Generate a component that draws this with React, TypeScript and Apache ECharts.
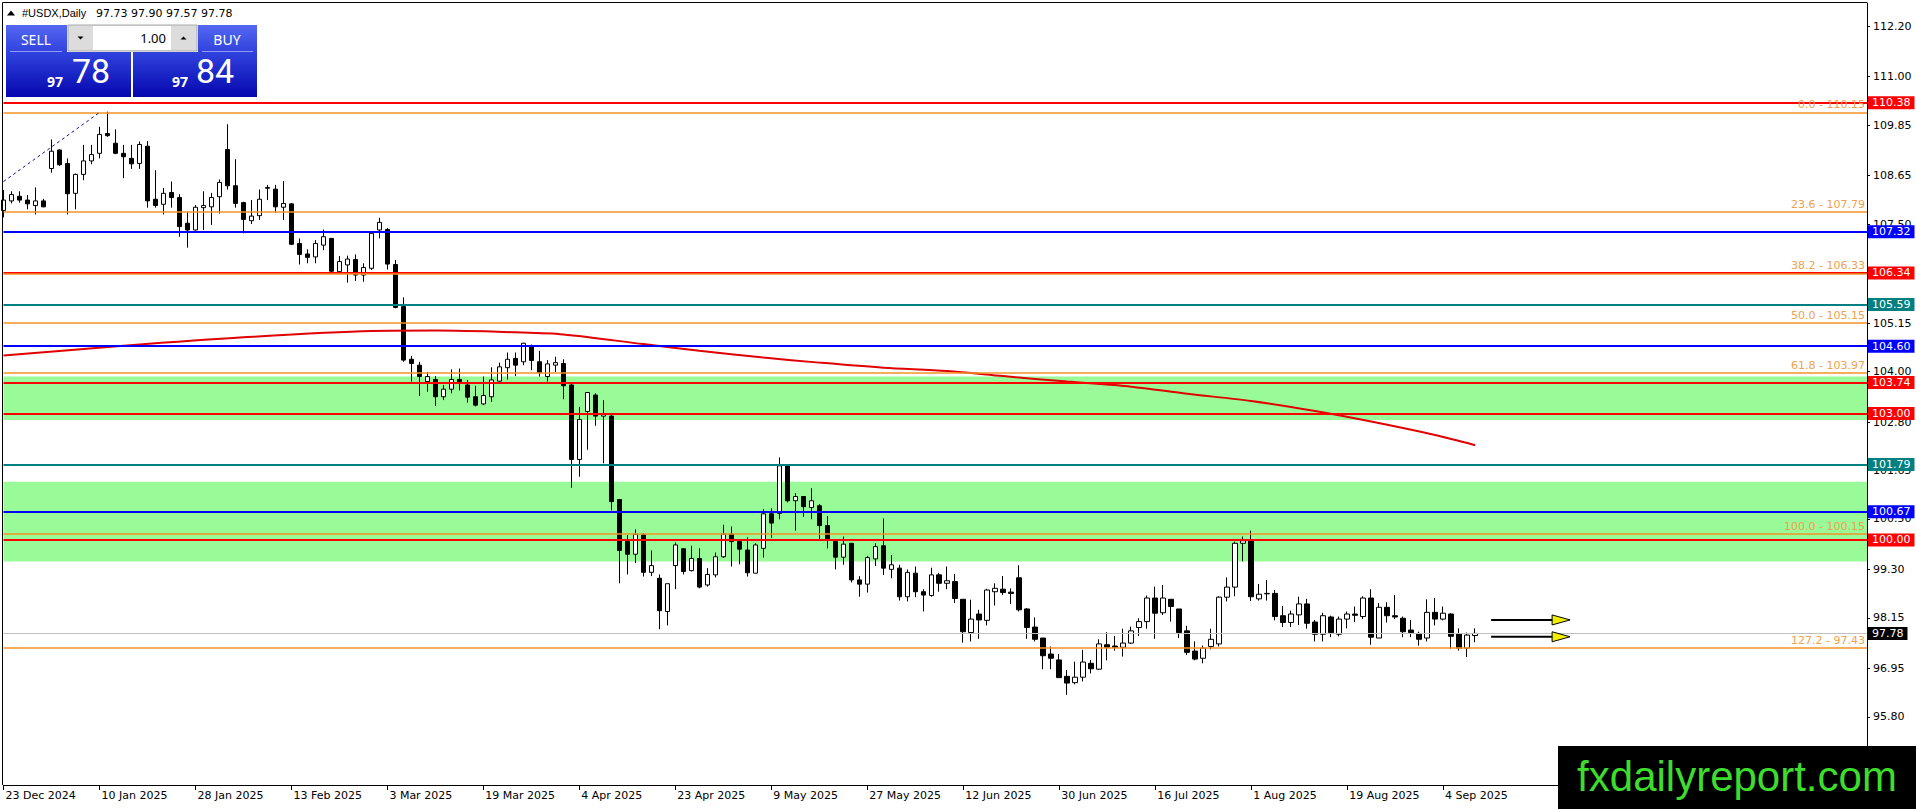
import React, { useEffect, useRef } from 'react';
import * as echarts from 'echarts';

// ---------- DATA ----------
// Daily candles, one row per trading day from 23 Dec 2024: [open, high, low, close]
const CANDLES: number[][] = [
  [107.82, 108.31, 107.66, 108.07], [108.05, 108.28, 107.99, 108.20], [108.16, 108.28, 108.01, 108.07],
  [108.07, 108.19, 107.85, 107.98], [107.94, 108.37, 107.73, 108.05], [108.05, 108.10, 107.90, 107.91],
  [108.82, 109.51, 108.72, 109.23], [109.26, 109.27, 108.88, 108.91], [108.94, 109.06, 107.73, 108.22],
  [108.23, 108.70, 107.85, 108.68], [108.68, 109.38, 108.54, 109.00], [109.00, 109.38, 108.92, 109.15],
  [109.18, 109.81, 109.06, 109.63], [109.65, 110.17, 109.57, 109.60], [109.42, 109.75, 109.16, 109.18],
  [109.18, 109.38, 108.59, 109.10], [109.06, 109.38, 108.81, 108.93], [108.94, 109.46, 108.81, 109.39],
  [109.35, 109.47, 107.89, 108.05], [108.09, 108.78, 107.89, 107.94], [107.97, 108.36, 107.73, 108.23],
  [108.25, 108.51, 107.89, 108.13], [108.13, 108.21, 107.20, 107.44], [107.52, 107.79, 106.94, 107.36],
  [107.36, 107.95, 107.35, 107.90], [107.89, 108.28, 107.36, 107.94], [107.91, 108.24, 107.48, 108.13],
  [108.15, 108.56, 107.75, 108.49], [109.27, 109.87, 108.32, 108.41], [108.41, 109.04, 107.89, 107.99],
  [108.01, 108.03, 107.28, 107.61], [107.58, 108.07, 107.50, 107.69], [107.70, 108.32, 107.60, 108.09],
  [108.35, 108.43, 108.07, 108.37], [108.33, 108.43, 107.77, 107.91], [107.90, 108.52, 107.60, 107.99],
  [107.98, 108.00, 107.00, 107.02], [107.04, 107.16, 106.54, 106.78], [106.79, 106.90, 106.57, 106.71],
  [106.72, 107.12, 106.57, 107.04], [107.00, 107.37, 106.88, 107.20], [107.16, 107.17, 106.34, 106.38],
  [106.37, 106.74, 106.31, 106.61], [106.53, 106.75, 106.11, 106.67], [106.66, 106.78, 106.15, 106.29],
  [106.29, 106.57, 106.13, 106.47], [106.45, 107.30, 106.41, 107.28], [107.36, 107.65, 107.16, 107.54],
  [107.37, 107.41, 106.42, 106.55], [106.54, 106.65, 105.50, 105.52], [105.54, 105.76, 104.23, 104.27],
  [104.29, 104.37, 103.76, 104.19], [104.15, 104.23, 103.42, 103.88], [103.76, 103.99, 103.52, 103.88],
  [103.81, 103.89, 103.18, 103.40], [103.40, 103.68, 103.32, 103.58], [103.58, 104.05, 103.48, 103.81],
  [103.81, 104.07, 103.55, 103.76], [103.68, 103.80, 103.26, 103.39], [103.40, 103.66, 103.17, 103.20],
  [103.23, 103.88, 103.20, 103.43], [103.40, 104.10, 103.28, 103.80], [103.77, 104.21, 103.76, 104.11],
  [104.09, 104.45, 103.81, 104.29], [104.31, 104.45, 103.89, 104.15], [104.23, 104.68, 104.15, 104.67],
  [104.60, 104.64, 104.03, 104.26], [104.23, 104.49, 103.88, 103.97], [103.88, 104.27, 103.76, 104.18],
  [104.15, 104.35, 103.99, 104.21], [104.19, 104.29, 103.34, 103.66], [103.68, 103.72, 101.24, 101.91],
  [101.91, 103.16, 101.50, 102.86], [103.05, 103.50, 102.14, 103.50], [103.44, 103.48, 102.71, 102.94],
  [102.94, 103.32, 101.82, 102.98], [102.94, 102.97, 100.70, 100.91], [100.96, 100.96, 98.97, 99.75],
  [99.96, 100.12, 99.18, 99.66], [99.66, 100.25, 99.45, 100.13], [100.12, 100.16, 99.13, 99.23],
  [99.23, 99.75, 99.14, 99.39], [99.09, 99.18, 97.88, 98.32], [98.30, 98.96, 97.97, 98.96],
  [99.39, 99.94, 98.83, 99.88], [99.79, 99.80, 99.18, 99.25], [99.27, 99.86, 99.25, 99.56],
  [99.56, 99.80, 98.85, 98.88], [98.93, 99.33, 98.89, 99.18], [99.17, 99.70, 99.11, 99.60],
  [99.60, 100.36, 99.57, 100.14], [100.14, 100.32, 99.37, 99.96], [99.96, 100.00, 99.42, 99.78],
  [99.76, 100.06, 99.13, 99.22], [99.21, 99.92, 99.21, 99.88], [99.80, 100.73, 99.58, 100.62],
  [100.62, 100.75, 100.05, 100.40], [100.63, 101.96, 100.49, 101.76], [101.76, 101.76, 100.89, 100.93],
  [100.93, 101.11, 100.22, 101.03], [101.03, 101.03, 100.55, 100.79], [100.77, 101.23, 100.49, 100.93],
  [100.81, 100.85, 100.02, 100.34], [100.34, 100.57, 99.80, 100.00], [99.96, 100.00, 99.30, 99.59],
  [99.59, 100.08, 99.41, 99.90], [99.92, 99.92, 98.99, 99.05], [99.05, 99.14, 98.65, 98.95],
  [98.95, 99.62, 98.75, 99.58], [99.55, 99.92, 99.38, 99.84], [99.86, 100.51, 99.17, 99.33],
  [99.30, 99.64, 99.09, 99.41], [99.33, 99.41, 98.56, 98.65], [98.65, 99.30, 98.54, 99.23],
  [99.21, 99.37, 98.64, 98.77], [98.77, 98.83, 98.30, 98.69], [98.68, 99.34, 98.65, 99.17],
  [99.17, 99.22, 98.77, 98.97], [98.97, 99.37, 98.83, 99.03], [99.01, 99.19, 98.50, 98.61],
  [98.59, 98.59, 97.56, 97.82], [97.80, 98.58, 97.59, 98.12], [98.24, 98.34, 97.65, 98.10],
  [98.09, 98.84, 97.97, 98.81], [98.77, 98.97, 98.44, 98.85], [98.83, 99.14, 98.69, 98.75],
  [98.76, 98.85, 98.48, 98.73], [99.10, 99.40, 98.30, 98.34], [98.36, 98.38, 97.65, 97.92],
  [97.93, 98.16, 97.59, 97.64], [97.67, 97.67, 96.93, 97.25], [97.29, 97.47, 96.93, 97.19],
  [97.15, 97.29, 96.73, 96.73], [96.76, 96.91, 96.32, 96.60], [96.61, 97.11, 96.57, 96.74],
  [96.74, 97.39, 96.64, 97.10], [97.07, 97.15, 96.83, 96.94], [96.93, 97.64, 96.91, 97.53],
  [97.51, 97.81, 97.14, 97.45], [97.48, 97.72, 97.37, 97.45], [97.45, 97.89, 97.23, 97.55],
  [97.55, 97.94, 97.53, 97.84], [97.92, 98.14, 97.72, 98.06], [98.06, 98.68, 97.89, 98.62],
  [98.62, 98.89, 97.65, 98.26], [98.27, 98.93, 98.22, 98.62], [98.59, 98.59, 98.06, 98.42],
  [98.36, 98.36, 97.67, 97.80], [97.84, 97.96, 97.27, 97.33], [97.36, 97.59, 97.14, 97.17],
  [97.19, 97.49, 97.07, 97.43], [97.47, 97.89, 97.40, 97.64], [97.53, 98.66, 97.47, 98.64],
  [98.64, 99.11, 98.54, 98.88], [98.88, 99.96, 98.66, 99.92], [99.92, 100.08, 99.49, 99.98],
  [100.00, 100.22, 98.55, 98.65], [98.60, 98.95, 98.56, 98.71], [98.73, 99.05, 98.56, 98.72],
  [98.73, 98.81, 98.09, 98.18], [98.20, 98.43, 97.93, 98.04], [98.04, 98.32, 97.93, 98.24],
  [98.22, 98.65, 97.98, 98.48], [98.48, 98.60, 97.89, 98.02], [98.05, 98.10, 97.59, 97.76],
  [97.76, 98.27, 97.59, 98.20], [98.17, 98.20, 97.69, 97.80], [97.76, 98.18, 97.71, 98.12],
  [98.12, 98.30, 97.90, 98.24], [98.24, 98.42, 98.05, 98.21], [98.18, 98.66, 98.12, 98.62],
  [98.62, 98.83, 97.51, 97.69], [97.67, 98.50, 97.67, 98.40], [98.40, 98.52, 98.04, 98.20],
  [98.20, 98.69, 98.12, 98.17], [98.14, 98.18, 97.69, 97.82], [97.86, 98.10, 97.69, 97.80],
  [97.78, 97.82, 97.49, 97.64], [97.67, 98.59, 97.59, 98.28], [98.28, 98.62, 97.97, 98.12],
  [98.12, 98.42, 98.09, 98.26], [98.24, 98.26, 97.41, 97.71], [97.77, 97.90, 97.37, 97.43],
  [97.43, 97.80, 97.22, 97.74], [97.73, 97.90, 97.57, 97.78],
];

// Date labels, one every 12 bars (bar 0, 12, 24, ...)
const DATE_LABELS = [
  '23 Dec 2024', '10 Jan 2025', '28 Jan 2025', '13 Feb 2025', '3 Mar 2025', '19 Mar 2025',
  '4 Apr 2025', '23 Apr 2025', '9 May 2025', '27 May 2025', '12 Jun 2025', '30 Jun 2025',
  '16 Jul 2025', '1 Aug 2025', '19 Aug 2025', '4 Sep 2025',
];
const LABEL_STEP = 12;
const SLOT_COUNT = 234; // bars + empty space on the right

// Price scale tick labels
const Y_TICKS = [95.80, 96.95, 98.15, 99.30, 100.50, 101.65, 102.80, 104.00, 105.15, 106.30, 107.50, 108.65, 109.85, 111.00, 112.20];
const Y_MIN = 94.18;
const Y_MAX = 112.75;

// Moving average (sampled along the curve): bar index and value
const MA_INDEX = [0, 15, 30, 46, 54, 64, 70, 80, 87, 95, 102, 110, 118, 125, 133, 141, 148, 156, 164, 171, 179, 184];
const MA_VALUE = [104.38, 104.61, 104.81, 104.96, 104.97, 104.93, 104.88, 104.65, 104.49, 104.33, 104.21, 104.09, 104.01, 103.89, 103.76, 103.64, 103.47, 103.30, 103.06, 102.81, 102.49, 102.25];

// Horizontal support / resistance levels
const LEVEL_VALUES = [110.38, 107.32, 106.34, 105.59, 104.60, 103.74, 103.00, 101.79, 100.67, 100.00];
const LEVEL_KIND = ['red', 'blue', 'red', 'teal', 'blue', 'red', 'red', 'teal', 'blue', 'red'];

// Fibonacci retracement levels
const FIB_RATIOS = ['0.0', '23.6', '38.2', '50.0', '61.8', '100.0', '127.2'];
const FIB_VALUES = [110.15, 107.79, 106.33, 105.15, 103.97, 100.15, 97.43];
const FIB_TREND = [[0, 108.51], [12, 110.15]];

// Shaded zones [top, bottom]
const ZONES = [[103.88, 102.85], [101.38, 99.49]];

// Header quote
const SYMBOL = '#USDX,Daily';
const BID = '97.78';
const ASK = '97.84';
const LOT = '1.00';

// Arrow annotations: start bar index and price
const ARROWS = [[186, 98.10], [186, 97.70]];

// ---------- STYLE ----------
const FONT = '"DejaVu Sans", sans-serif';
const KIND_COLOR: Record<string, string> = { red: '#FF0000', blue: '#0000FF', teal: '#008080' };
const FIB_LINE = '#F39326';
const FIB_TEXT = '#F0A14E';

function buildOption() {
  const cats = Array.from({ length: SLOT_COUNT }, (_, i) => String(i));
  const candleData = CANDLES.map(([o, h, l, c]) => [o, c, l, h]);
  const lastClose = CANDLES[CANDLES.length - 1][3];
  const showLabel = (i: number) => i % LABEL_STEP === 0 && i / LABEL_STEP < DATE_LABELS.length;

  const tagLabel = (v: number, bg: string) => ({
    show: true,
    position: 'end',
    formatter: v.toFixed(2),
    color: '#FFFFFF',
    backgroundColor: bg,
    padding: [1, 4, 0, 4],
    lineHeight: 12,
    fontSize: 11,
    fontFamily: FONT,
    distance: 1,
  });

  const lines: any[] = [];
  LEVEL_VALUES.forEach((v, i) => {
    const col = KIND_COLOR[LEVEL_KIND[i]];
    lines.push({ yAxis: v, lineStyle: { color: col, width: 2, type: 'solid' }, label: tagLabel(v, col) });
  });
  FIB_VALUES.forEach((v, i) => {
    lines.push({
      yAxis: v,
      lineStyle: { color: FIB_LINE, width: 1.5, type: 'solid' },
      label: {
        show: true,
        position: 'insideEndTop',
        formatter: `${FIB_RATIOS[i]} - ${v.toFixed(2)}`,
        color: FIB_TEXT,
        fontSize: 11,
        fontFamily: FONT,
        distance: 2,
      },
    });
  });
  lines.push({ yAxis: lastClose, lineStyle: { color: '#C0C0C0', width: 1, type: 'solid' }, label: tagLabel(lastClose, '#000000') });
  lines.push([
    { coord: FIB_TREND[0], lineStyle: { color: '#1010A0', width: 1, type: [3, 3] }, label: { show: false } },
    { coord: FIB_TREND[1] },
  ]);

  return {
    animation: false,
    backgroundColor: '#FFFFFF',
    grid: { left: 3.5, right: 49, top: 3, bottom: 24 },
    xAxis: {
      type: 'category',
      data: cats,
      boundaryGap: false,
      axisLine: { show: true, lineStyle: { color: '#000000', width: 1 } },
      axisTick: { show: true, length: 5, interval: (i: number) => showLabel(i), lineStyle: { color: '#000000' } },
      axisLabel: {
        show: true,
        interval: (i: number) => showLabel(i),
        formatter: (_v: string, i: number) => (showLabel(i) ? DATE_LABELS[i / LABEL_STEP] : ''),
        align: 'left',
        padding: [0, 0, 0, 2],
        margin: 5,
        color: '#000000',
        fontSize: 11,
        fontFamily: FONT,
      },
      splitLine: { show: false },
    },
    yAxis: {
      type: 'value',
      position: 'right',
      min: Y_MIN,
      max: Y_MAX,
      axisLine: { show: true, lineStyle: { color: '#000000', width: 1 } },
      axisTick: { show: true, length: 3, customValues: Y_TICKS, lineStyle: { color: '#000000' } },
      axisLabel: {
        show: true,
        customValues: Y_TICKS,
        formatter: (v: number) => v.toFixed(2),
        margin: 6,
        color: '#000000',
        fontSize: 11,
        fontFamily: FONT,
      },
      splitLine: { show: false },
    },
    series: [
      {
        type: 'candlestick',
        data: candleData,
        barWidth: 5,
        z: 2,
        itemStyle: {
          color: '#FFFFFF',
          color0: '#000000',
          borderColor: '#000000',
          borderColor0: '#000000',
          borderColorDoji: '#000000',
          borderWidth: 1,
        },
        markArea: {
          silent: true,
          itemStyle: { color: '#98FB98', opacity: 1 },
          data: ZONES.map(([a, b]) => [{ yAxis: a }, { yAxis: b }]),
        },
        markLine: {
          silent: true,
          symbol: ['none', 'none'],
          animation: false,
          data: lines,
        },
      },
      {
        type: 'line',
        data: MA_INDEX.map((x, i) => [x, MA_VALUE[i]]),
        showSymbol: false,
        smooth: 0.3,
        z: 3,
        lineStyle: { color: '#E00000', width: 2 },
        silent: true,
      },
    ],
  };
}

function buildGraphics(chart: any) {
  const els: any[] = [];
  const Z = 100;
  // frame (left & top)
  els.push({ type: 'line', z: Z, shape: { x1: 2.5, y1: 2.5, x2: 2.5, y2: 785 }, style: { stroke: '#000', lineWidth: 1 } });
  els.push({ type: 'line', z: Z, shape: { x1: 2.5, y1: 2.5, x2: 1867, y2: 2.5 }, style: { stroke: '#000', lineWidth: 1 } });

  // header
  els.push({ type: 'polygon', z: Z, shape: { points: [[7, 15.5], [15, 15.5], [11, 10.5]] }, style: { fill: '#000' } });
  els.push({ type: 'text', z: Z, style: { text: SYMBOL, x: 22, y: 13, fill: '#000', font: '11px "Liberation Sans", sans-serif', verticalAlign: 'middle', textVerticalAlign: 'middle' } });
  const last = CANDLES[CANDLES.length - 1];
  els.push({ type: 'text', z: Z, style: { text: last.map((v) => v.toFixed(2)).join(' '), x: 96, y: 13, fill: '#000', font: '11px ' + FONT, verticalAlign: 'middle', textVerticalAlign: 'middle' } });

  // trade panel
  const topGrad = () => new echarts.graphic.LinearGradient(0, 0, 0, 1, [{ offset: 0, color: '#5568F2' }, { offset: 1, color: '#3042DC' }]);
  const priceGrad = () => new echarts.graphic.LinearGradient(0, 0, 0, 1, [{ offset: 0, color: '#3043DE' }, { offset: 1, color: '#0507AE' }]);
  els.push({ type: 'rect', z: Z, shape: { x: 6, y: 25, width: 61, height: 27 }, style: { fill: topGrad() } });
  els.push({ type: 'rect', z: Z, shape: { x: 198, y: 25, width: 59, height: 27 }, style: { fill: topGrad() } });
  els.push({ type: 'rect', z: Z, shape: { x: 6, y: 52, width: 125, height: 45 }, style: { fill: priceGrad() } });
  els.push({ type: 'rect', z: Z, shape: { x: 133, y: 52, width: 124, height: 45 }, style: { fill: priceGrad() } });
  els.push({ type: 'line', z: Z + 1, shape: { x1: 10, y1: 51.5, x2: 62, y2: 51.5 }, style: { stroke: '#8E9CF4', lineWidth: 1 } });
  els.push({ type: 'line', z: Z + 1, shape: { x1: 202, y1: 51.5, x2: 253, y2: 51.5 }, style: { stroke: '#8E9CF4', lineWidth: 1 } });
  // spinner
  els.push({ type: 'rect', z: Z, shape: { x: 68, y: 25, width: 129, height: 26 }, style: { fill: '#DCDCDC', stroke: '#A8A8A8', lineWidth: 1 } });
  els.push({ type: 'rect', z: Z + 1, shape: { x: 93, y: 26, width: 78, height: 24 }, style: { fill: '#FFFFFF' } });
  els.push({ type: 'polygon', z: Z + 1, shape: { points: [[77.5, 36.5], [83.5, 36.5], [80.5, 39.5]] }, style: { fill: '#000' } });
  els.push({ type: 'polygon', z: Z + 1, shape: { points: [[180.5, 39.5], [186.5, 39.5], [183.5, 36.5]] }, style: { fill: '#000' } });
  els.push({ type: 'text', z: Z + 2, style: { text: LOT, x: 166, y: 38, fill: '#000', font: '13px "Noto Sans", sans-serif', align: 'right', textAlign: 'right', verticalAlign: 'middle', textVerticalAlign: 'middle' } });
  // button captions
  els.push({ type: 'text', z: Z + 2, style: { text: 'SELL', x: 36, y: 39, fill: '#FFFFFF', font: '14px "Noto Sans", sans-serif', align: 'center', textAlign: 'center', verticalAlign: 'middle', textVerticalAlign: 'middle' } });
  els.push({ type: 'text', z: Z + 2, style: { text: 'BUY', x: 227, y: 39, fill: '#FFFFFF', font: '14px "Noto Sans", sans-serif', align: 'center', textAlign: 'center', verticalAlign: 'middle', textVerticalAlign: 'middle' } });
  // prices
  const big = (s: string, x: number) => ({ type: 'text', z: Z + 2, style: { text: s, x, y: 88, fill: '#FFFFFF', font: '34px Roboto, sans-serif', verticalAlign: 'bottom', textVerticalAlign: 'bottom' } });
  const small = (s: string, x: number) => ({ type: 'text', z: Z + 2, style: { text: s, x, y: 88, fill: '#FFFFFF', font: 'bold 14px "Noto Sans", sans-serif', align: 'right', textAlign: 'right', verticalAlign: 'bottom', textVerticalAlign: 'bottom' } });
  els.push(small(BID.slice(0, 2), 63), big(BID.slice(3), 72));
  els.push(small(ASK.slice(0, 2), 188), big(ASK.slice(3), 196));

  // arrows
  ARROWS.forEach(([idx, price]) => {
    const p = chart.convertToPixel({ gridIndex: 0 }, [idx, price]);
    const x = p[0];
    const y = p[1];
    els.push({ type: 'line', z: Z, shape: { x1: x, y1: y, x2: x + 62, y2: y }, style: { stroke: '#000', lineWidth: 2 } });
    els.push({ type: 'polygon', z: Z + 1, shape: { points: [[x + 61, y - 5], [x + 61, y + 5], [x + 79, y]] }, style: { fill: '#F2EE00', stroke: '#000', lineWidth: 1 } });
  });

  // watermark
  els.push({ type: 'rect', z: Z + 5, shape: { x: 1558, y: 746, width: 358, height: 63 }, style: { fill: '#000000' } });
  els.push({ type: 'text', z: Z + 6, style: { text: 'fxdailyreport.com', x: 1737, y: 776, fill: '#3EDC2C', font: '42px "Liberation Sans", sans-serif', align: 'center', textAlign: 'center', verticalAlign: 'middle', textVerticalAlign: 'middle' } });
  return els;
}

export default function App() {
  const ref = useRef<HTMLDivElement>(null);
  useEffect(() => {
    document.body.style.margin = '0';
    const chart = echarts.init(ref.current as HTMLDivElement, undefined, { renderer: 'svg' });
    chart.setOption(buildOption() as any);
    chart.setOption({ graphic: { elements: buildGraphics(chart) } } as any);
    return () => chart.dispose();
  }, []);
  return <div ref={ref} style={{ width: 1916, height: 809 }} />;
}
